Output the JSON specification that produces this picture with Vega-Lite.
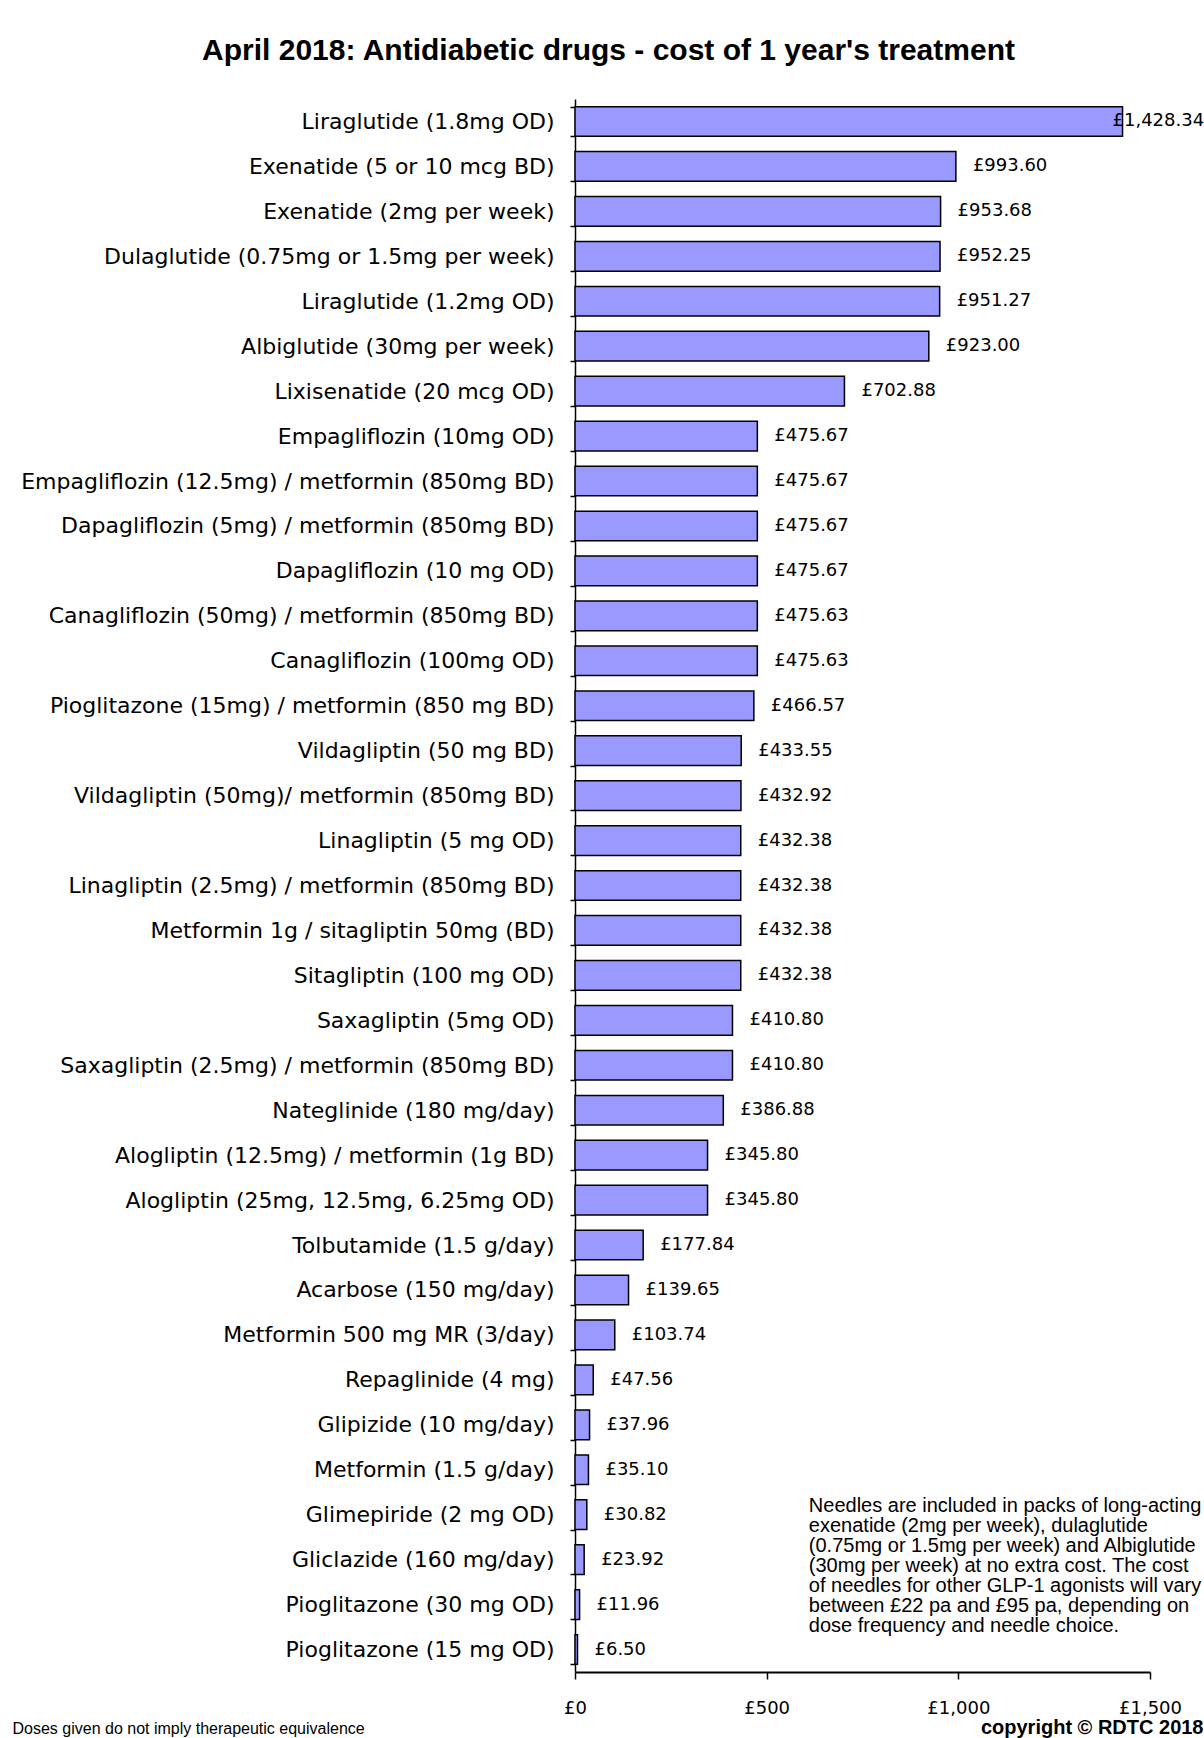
{
  "$schema": "https://vega.github.io/schema/vega-lite/v6.json",
  "autosize": {"type": "none"},
  "padding": {"left": 575, "top": 99, "right": 54, "bottom": 66},
  "width": 575,
  "height": 1573,
  "background": "white",
  "title": {
    "text": "April 2018: Antidiabetic drugs - cost of 1 year's treatment",
    "font": "Liberation Sans",
    "fontSize": 30,
    "fontWeight": "bold",
    "color": "black",
    "anchor": "middle",
    "frame": "group",
    "dx": -254,
    "offset": 22
  },
  "config": {
    "view": {"stroke": null},
    "locale": {"number": {"decimal": ".", "thousands": ",", "grouping": [3], "currency": ["£", ""]}}
  },
  "data": {
    "values": [
      {"drug": "Liraglutide (1.8mg OD)", "cost": 1428.34},
      {"drug": "Exenatide (5 or 10 mcg BD)", "cost": 993.60},
      {"drug": "Exenatide (2mg per week)", "cost": 953.68},
      {"drug": "Dulaglutide (0.75mg or 1.5mg per week)", "cost": 952.25},
      {"drug": "Liraglutide (1.2mg OD)", "cost": 951.27},
      {"drug": "Albiglutide (30mg per week)", "cost": 923.00},
      {"drug": "Lixisenatide (20 mcg OD)", "cost": 702.88},
      {"drug": "Empagliflozin (10mg OD)", "cost": 475.67},
      {"drug": "Empagliflozin (12.5mg) / metformin (850mg BD)", "cost": 475.67},
      {"drug": "Dapagliflozin (5mg) / metformin (850mg BD)", "cost": 475.67},
      {"drug": "Dapagliflozin (10 mg OD)", "cost": 475.67},
      {"drug": "Canagliflozin (50mg) / metformin (850mg BD)", "cost": 475.63},
      {"drug": "Canagliflozin (100mg OD)", "cost": 475.63},
      {"drug": "Pioglitazone (15mg) / metformin (850 mg BD)", "cost": 466.57},
      {"drug": "Vildagliptin (50 mg BD)", "cost": 433.55},
      {"drug": "Vildagliptin (50mg)/ metformin (850mg BD)", "cost": 432.92},
      {"drug": "Linagliptin (5 mg OD)", "cost": 432.38},
      {"drug": "Linagliptin (2.5mg) / metformin (850mg BD)", "cost": 432.38},
      {"drug": "Metformin 1g / sitagliptin 50mg (BD)", "cost": 432.38},
      {"drug": "Sitagliptin (100 mg OD)", "cost": 432.38},
      {"drug": "Saxagliptin (5mg OD)", "cost": 410.80},
      {"drug": "Saxagliptin (2.5mg) / metformin (850mg BD)", "cost": 410.80},
      {"drug": "Nateglinide (180 mg/day)", "cost": 386.88},
      {"drug": "Alogliptin (12.5mg) / metformin (1g BD)", "cost": 345.80},
      {"drug": "Alogliptin (25mg, 12.5mg, 6.25mg OD)", "cost": 345.80},
      {"drug": "Tolbutamide (1.5 g/day)", "cost": 177.84},
      {"drug": "Acarbose (150 mg/day)", "cost": 139.65},
      {"drug": "Metformin 500 mg MR (3/day)", "cost": 103.74},
      {"drug": "Repaglinide (4 mg)", "cost": 47.56},
      {"drug": "Glipizide (10 mg/day)", "cost": 37.96},
      {"drug": "Metformin (1.5 g/day)", "cost": 35.10},
      {"drug": "Glimepiride (2 mg OD)", "cost": 30.82},
      {"drug": "Gliclazide (160 mg/day)", "cost": 23.92},
      {"drug": "Pioglitazone (30 mg OD)", "cost": 11.96},
      {"drug": "Pioglitazone (15 mg OD)", "cost": 6.50}
    ]
  },
  "encoding": {
    "y": {
      "field": "drug",
      "type": "nominal",
      "sort": null,
      "scale": {"paddingInner": 0.34, "paddingOuter": 0.17},
      "axis": {
        "title": "copyright © RDTC 2018",
        "titleFont": "Liberation Sans",
        "titleFontSize": 20,
        "titleFontWeight": "bold",
        "titleColor": "black",
        "titleAngle": 0,
        "titleAlign": "right",
        "titleBaseline": "middle",
        "titleX": 628,
        "titleY": 1628,
        "labelFont": "DejaVu Sans",
        "labelFontSize": 22,
        "labelColor": "black",
        "labelLimit": 700,
        "labelPadding": 16,
        "tickSize": 5,
        "tickColor": "black",
        "tickWidth": 1.5,
        "tickBand": "extent",
        "domainColor": "black",
        "domainWidth": 1.5,
        "grid": false
      }
    },
    "x": {
      "field": "cost",
      "type": "quantitative",
      "scale": {"domain": [0, 1500], "nice": false},
      "axis": {
        "values": [0, 500, 1000, 1500],
        "format": "$,.0f",
        "labelFlush": false,
        "title": "Doses given do not imply therapeutic equivalence",
        "titleFont": "Liberation Sans",
        "titleFontSize": 16,
        "titleFontWeight": "normal",
        "titleColor": "black",
        "titleAlign": "left",
        "titleBaseline": "middle",
        "titleX": -563,
        "titleY": 56,
        "labelFont": "DejaVu Sans",
        "labelFontSize": 18,
        "labelColor": "black",
        "labelPadding": 20,
        "tickSize": 7,
        "tickColor": "black",
        "tickWidth": 1.5,
        "domainColor": "black",
        "domainWidth": 2,
        "grid": false
      }
    }
  },
  "layer": [
    {
      "mark": {"type": "bar", "fill": "#9999FF", "stroke": "black", "strokeWidth": 1.5}
    },
    {
      "transform": [{"filter": "datum.cost < 1200"}],
      "mark": {"type": "text", "align": "left", "baseline": "middle", "dx": 17, "font": "DejaVu Sans", "fontSize": 18, "color": "black"},
      "encoding": {"text": {"field": "cost", "type": "quantitative", "format": "$,.2f"}}
    },
    {
      "transform": [{"filter": "datum.cost >= 1200"}],
      "mark": {"type": "text", "align": "left", "baseline": "middle", "dx": -10, "font": "DejaVu Sans", "fontSize": 18, "color": "black"},
      "encoding": {"text": {"field": "cost", "type": "quantitative", "format": "$,.2f"}}
    },
    {
      "data": {"values": [{"note": "Needles are included in packs of long-acting\nexenatide (2mg per week), dulaglutide\n(0.75mg or 1.5mg per week) and Albiglutide\n(30mg per week) at no extra cost. The cost\nof needles for other GLP-1 agonists will vary\nbetween £22 pa and £95 pa, depending on\ndose frequency and needle choice.", "pos": 610, "row": "Glimepiride (2 mg OD)"}]},
      "mark": {"type": "text", "align": "left", "baseline": "middle", "dy": -9, "font": "Liberation Sans", "fontSize": 20, "lineHeight": 20, "lineBreak": "\n", "color": "black"},
      "encoding": {
        "x": {"field": "pos", "type": "quantitative"},
        "y": {"field": "row", "type": "nominal"},
        "text": {"field": "note", "type": "nominal"}
      }
    }
  ]
}
